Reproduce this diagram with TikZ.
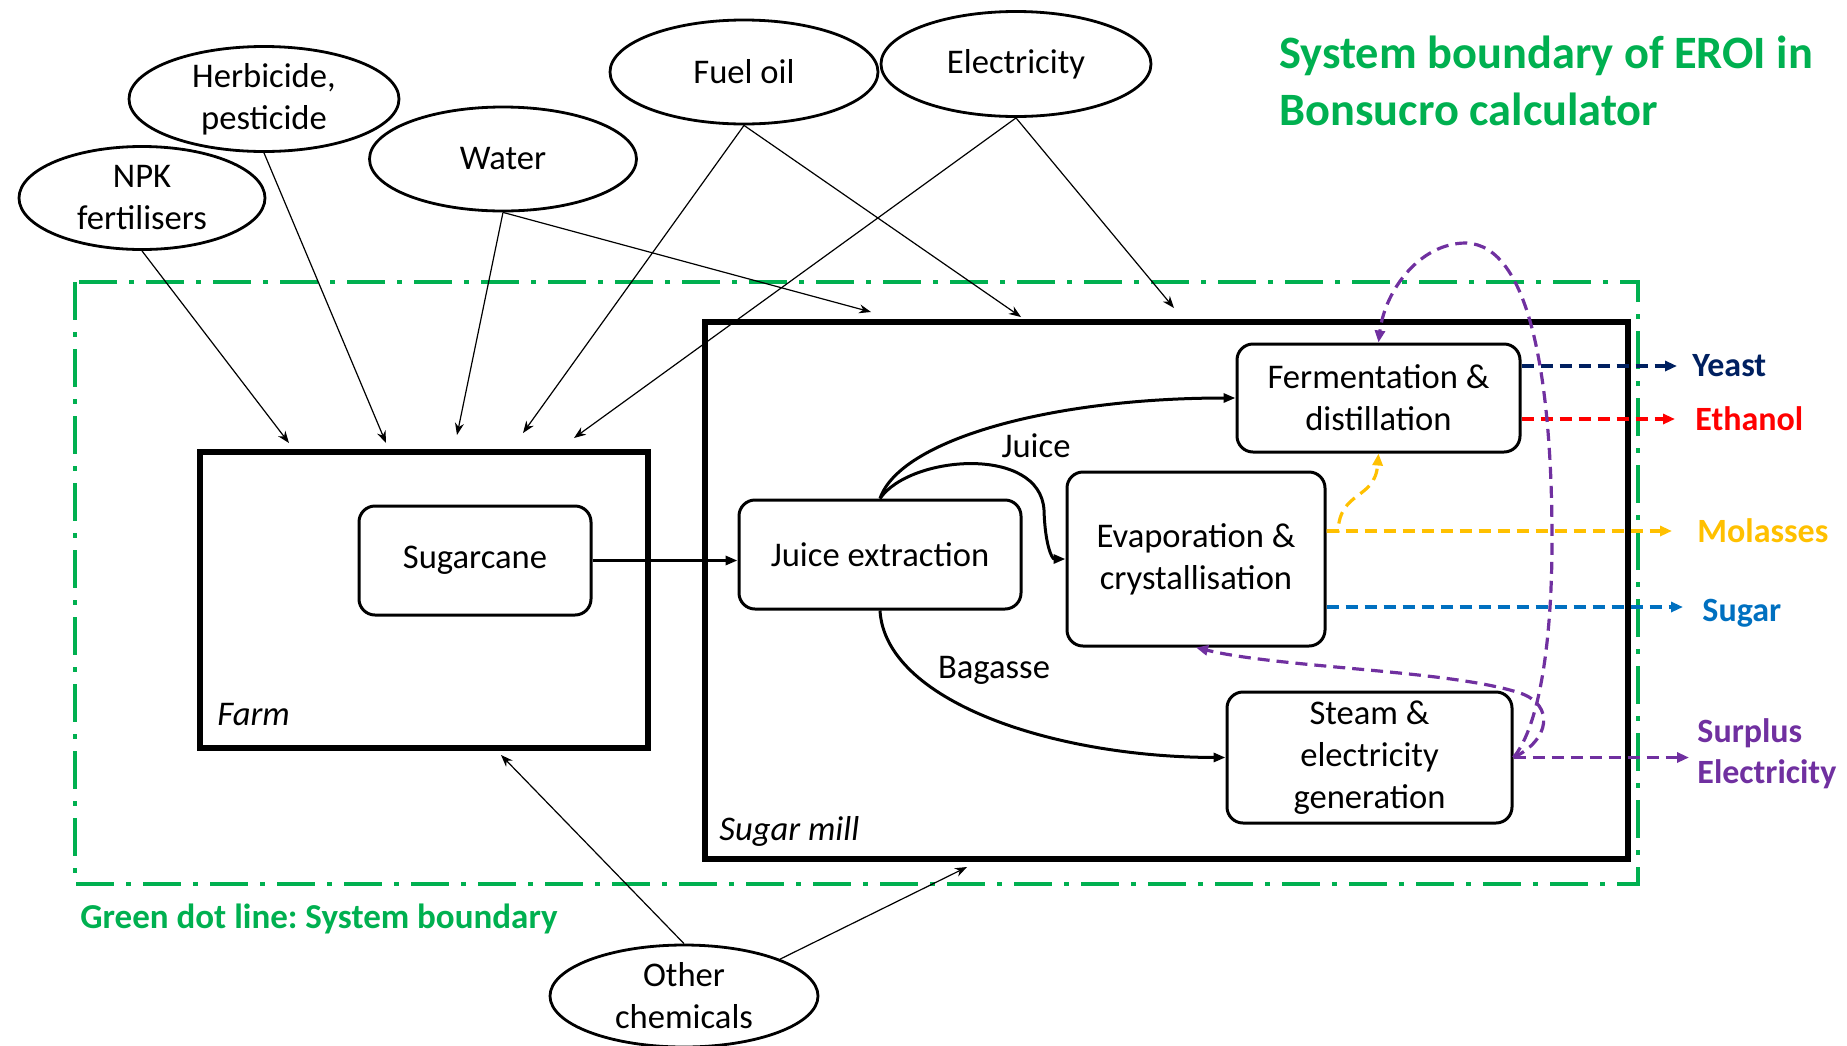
\documentclass[tikz,border=0pt]{standalone}
\usepackage{fontspec}
\setmainfont{Carlito}
\usetikzlibrary{arrows.meta,shapes.geometric,calc}
\definecolor{bgreen}{HTML}{00B050}
\definecolor{navy}{HTML}{002060}
\definecolor{mred}{HTML}{FF0000}
\definecolor{myellow}{HTML}{FFC000}
\definecolor{mblue}{HTML}{0070C0}
\definecolor{mpurple}{HTML}{7030A0}
\frenchspacing
\begin{document}
\begin{tikzpicture}[x=0.5pt,y=-0.5pt,
  basefont/.style={font=\fontsize{17.3}{21}\selectfont},
  proc/.style={draw, line width=1.5pt, rounded corners=8pt, align=center, inner sep=0pt, basefont},
  inp/.style={draw, ellipse, line width=1.4pt, inner sep=0pt, minimum width=134pt, minimum height=52pt},
  inptext/.style={align=center, inner sep=0pt, basefont},
  bigbox/.style={draw, line width=2.6pt, inner sep=0pt},
  inarrow/.style={line width=0.6pt, -{Stealth[length=6pt,width=4.5pt]}},
  flow/.style={line width=1.5pt, -{Triangle[length=6pt,width=4.5pt]}},
  dsh/.style={line width=1.6pt, dash pattern=on 6pt off 3.5pt, -{Triangle[length=6pt,width=5pt]}},
  outl/.style={font=\bfseries\fontsize{17}{20.5}\selectfont, anchor=base west, inner sep=0pt, align=left},
  bnd/.style={draw=bgreen, line width=2pt, dash pattern=on 19pt off 6pt on 2.5pt off 6pt}
]
\useasboundingbox (0,0) rectangle (1847,1045);

% system boundary
\draw[bnd] (75,282) rectangle (1638,884);

% big boxes
\node[bigbox, minimum width=224pt, minimum height=148pt] (farm) at (424,600) {};
\node[bigbox, minimum width=461.5pt, minimum height=268.5pt] (mill) at (1166.5,590.5) {};
\node[anchor=base west, inner sep=0pt, font=\itshape\fontsize{17.3}{21}\selectfont] (farmlbl) at (217,725) {Farm};
\node[anchor=base west, inner sep=0pt, font=\itshape\fontsize{17.3}{21}\selectfont] (milllbl) at (719,840) {Sugar mill};

% process boxes
\node[proc, minimum width=116pt, minimum height=54.5pt] (cane) at (475,560.5) {Sugarcane};
\node[proc, minimum width=141pt, minimum height=54.5pt] (juice) at (880,554.5) {Juice extraction};
\node[proc, minimum width=129pt, minimum height=87pt] (evap) at (1196,559) {Evaporation \&\\crystallisation};
\node[proc, minimum width=141.5pt, minimum height=54pt] (ferm) at (1378.5,398) {Fermentation \&\\distillation};
\node[proc, minimum width=142.5pt, minimum height=65.5pt] (steam) at (1369.5,757.5) {Steam \&\\electricity\\generation};

% input ellipses
\node[inp, minimum width=123pt, minimum height=51.5pt] (npk) at (142,198) {};
\node[inptext] (npkt) at (npk.center) {NPK\\fertilisers};
\node[inp, minimum width=135pt, minimum height=52.5pt] (herb) at (264,99) {};
\node[inptext] (herbt) at (herb.center) {Herbicide,\\pesticide};
\node[inp, minimum width=133.5pt, minimum height=52pt] (water) at (503,159) {};
\node[inptext] (watert) at (water.center) {Water};
\node[inp] (fuel) at (744,72) {};
\node[inptext] (fuelt) at (fuel.center) {Fuel oil};
\node[inp, minimum width=135pt, minimum height=52.5pt] (elec) at (1016,64) {};
\node[inptext] (elect) at (elec.center) {Electricity};
\node[inp, minimum height=51pt] (other) at (684,996) {};
\node[inptext] (othert) at (other.center) {Other\\chemicals};

% input arrow end points
\coordinate (f1) at (289,443);
\coordinate (f2) at (386,443);
\coordinate (f3) at (457,435);
\coordinate (f4) at (523,433);
\coordinate (f5) at (574,438);
\coordinate (f6) at (501,755);
\coordinate (m1) at (871,312);
\coordinate (m2) at (1021,317);
\coordinate (m3) at (1174,308);
\coordinate (m4) at (967,867);

\draw[inarrow] (npk.south) -- (f1);
\draw[inarrow] (herb.south) -- (f2);
\draw[inarrow] (water.south) -- (f3);
\draw[inarrow] (water.south) -- (m1);
\draw[inarrow] (fuel.south) -- (f4);
\draw[inarrow] (fuel.south) -- (m2);
\draw[inarrow] (elec.south) -- (f5);
\draw[inarrow] (elec.south) -- (m3);
\draw[inarrow] (other.north) -- (f6);
\draw[inarrow] (other.21) -- (m4);

% main flows
\coordinate (caneE) at (591,560.5);
\draw[flow] (cane.east) -- (juice.west |- caneE);
\draw[flow] (juice.north) .. controls (900,440) and (1050,398) .. (ferm.west);
\coordinate (jbend) at (1044,510);
\draw[flow] (juice.north) .. controls (910,455) and (1040,445) .. (jbend) .. controls (1045,545) and (1052,559) .. (evap.west);
\draw[flow] (juice.south) .. controls (885,700) and (1050,757) .. (steam.west);
\node[anchor=base, inner sep=0pt, basefont] (juicelbl) at (1036,457) {Juice};
\node[anchor=base, inner sep=0pt, basefont] (baglbl) at (994,678) {Bagasse};

% products
\coordinate (yeastE) at (1677,366);
\coordinate (ethE) at (1675,419);
\coordinate (molE) at (1672,531);
\coordinate (sugE) at (1683,607);
\coordinate (surE) at (1689,757.5);
\draw[dsh, navy] (ferm.east |- yeastE) -- (yeastE);
\draw[dsh, mred] (ferm.east |- ethE) -- (ethE);
\draw[dsh, myellow] (evap.east |- molE) -- (molE);
\draw[dsh, mblue] (evap.east |- sugE) -- (sugE);
\draw[dsh, mpurple] (steam.east) -- (surE);
\coordinate (molS) at (1338,531);
\draw[dsh, myellow] (evap.east |- molE) -- (molS) .. controls (1340,490) and (1375,500) .. (ferm.south);

\node[outl, text=navy] (yeast) at (1692,376) {Yeast};
\node[outl, text=mred] (ethanol) at (1695,430) {Ethanol};
\node[outl, text=myellow] (molasses) at (1697,542) {Molasses};
\node[outl, text=mblue] (sugar) at (1702,621) {Sugar};
\node[outl, text=mpurple] (surplus) at (1697,783) {Surplus\\Electricity};

% purple recycles
\coordinate (pA) at (1552,540);
\coordinate (pTop) at (1466,243);
\draw[dsh, mpurple] (steam.east) .. controls (1540,725) and (1552,640) .. (pA) .. controls (1552,380) and (1530,245) .. (pTop) .. controls (1420,243) and (1385,290) .. (ferm.north);
\coordinate (pB) at (1520,693);
\draw[dsh, mpurple] (steam.east) .. controls (1550,740) and (1555,705) .. (pB) .. controls (1450,670) and (1280,668) .. (evap.south);

% texts
\node[anchor=base west, inner sep=0pt, align=left, text=bgreen, font=\bfseries\fontsize{23.2}{28.2}\selectfont] (title) at (1279,125) {System boundary of EROI in\\Bonsucro calculator};
\node[anchor=base west, inner sep=0pt, text=bgreen, font=\bfseries\fontsize{17.5}{21}\selectfont] (legend) at (80,928) {Green dot line: System boundary};
\end{tikzpicture}
\end{document}
